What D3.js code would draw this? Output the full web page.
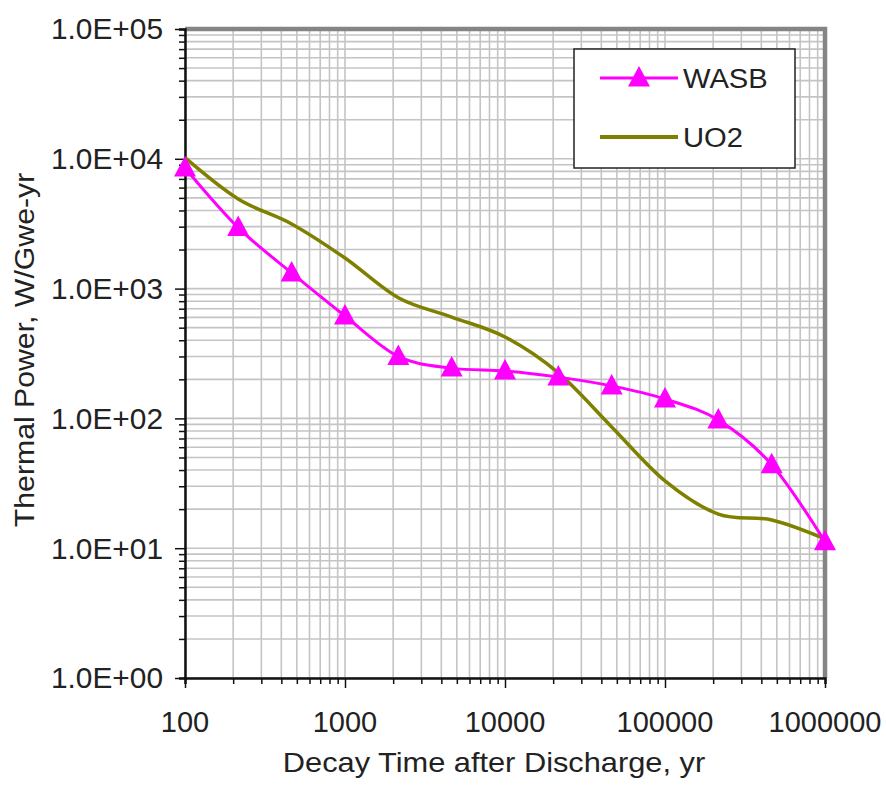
<!DOCTYPE html>
<html>
<head>
<meta charset="utf-8">
<script src="https://cdn.jsdelivr.net/npm/d3@7"></script>
<style>
  body { margin: 0; background: #fff; }
  text { font-family: "Liberation Sans", Arial, sans-serif; fill: #222; }
</style>
</head>
<body>
<div id="main"></div>
<script>
// decay heat
var times = [100, 215, 464, 1000, 2154, 4642, 10000, 21544, 46416, 100000, 215443, 464159, 1000000];
var wasb = [8500, 2950, 1320, 615, 300, 244, 232, 208, 178, 141, 97, 44, 11.2];
var uo2 = [10200, 4900, 3150, 1720, 850, 604, 424, 224, 86, 33, 18.3, 16.5, 11.8];
var xTicks = [100, 1000, 10000, 100000, 1000000];
var yTicks = [1, 10, 100, 1000, 10000, 100000];
var seriesNames = ["WASB", "UO2"];

var margin = {top: 29, right: 61, bottom: 111, left: 185};
var W = 886, H = 789;
var width = W - margin.left - margin.right;
var height = H - margin.top - margin.bottom;

var svg = d3.select("#main").append("svg")
  .attr("width", W).attr("height", H);

var x = d3.scaleLog().domain([100, 1000000]).range([0, width]);
var y = d3.scaleLog().domain([1, 100000]).range([height, 0]);

var g = svg.append("g").attr("transform", "translate(" + margin.left + "," + margin.top + ")");

// minor + major positions for grid
function logSteps(lo, hi) {
  var out = [];
  for (var p = lo; p < hi; p *= 10)
    for (var k = 1; k < 10; k++) out.push(p * k);
  out.push(hi);
  return out;
}
var xAll = logSteps(100, 1000000);
var yAll = logSteps(1, 100000);

//grid
g.append("g").attr("stroke", "#c4c4c4").attr("stroke-width", 1.6)
  .selectAll("line.v").data(xAll).join("line")
    .attr("x1", d => x(d)).attr("x2", d => x(d))
    .attr("y1", 0).attr("y2", height);
g.append("g").attr("stroke", "#c4c4c4").attr("stroke-width", 1.6)
  .selectAll("line.h").data(yAll).join("line")
    .attr("y1", d => y(d)).attr("y2", d => y(d))
    .attr("x1", 0).attr("x2", width);

// gray frame on top and right
g.append("path")
  .attr("d", "M0,0H" + width + "V" + height)
  .attr("fill", "none").attr("stroke", "#858585").attr("stroke-width", 4.5);

// axes
var xAxis = g.append("g").attr("transform", "translate(0," + height + ")")
  .call(d3.axisBottom(x).tickValues(xAll).tickSize(6).tickFormat(""));
xAxis.selectAll(".tick line").attr("y2", d => xTicks.indexOf(d) >= 0 ? 10 : 6);
var yAxis = g.append("g")
  .call(d3.axisLeft(y).tickValues(yAll).tickSize(6).tickFormat(""));
yAxis.selectAll(".tick line").attr("x2", d => yTicks.indexOf(d) >= 0 ? -10 : -6);
[xAxis, yAxis].forEach(a => {
  a.select(".domain").attr("stroke", "#111").attr("stroke-width", 2.5);
  a.selectAll(".tick line").attr("stroke", "#111").attr("stroke-width", 1.5);
});

g.append("g").selectAll("text").data(xTicks).join("text")
  .attr("x", d => x(d)).attr("y", height + 54)
  .attr("text-anchor", "middle").attr("font-size", 29)
  .text(d => d);
g.append("g").selectAll("text").data(yTicks).join("text")
  .attr("x", -22).attr("y", d => y(d)).attr("dy", "0.36em")
  .attr("text-anchor", "end").attr("font-size", 29)
  .attr("transform", "translate(-22,0) scale(1.03,1) translate(22,0)")
  .text(d => "1.0E+" + String(Math.round(Math.log10(d))).padStart(2, "0"));

// titles
svg.append("text")
  .attr("x", 494).attr("y", 772).attr("text-anchor", "middle").attr("font-size", 27)
  .attr("transform", "translate(494,0) scale(1.14,1) translate(-494,0)")
  .text("Decay Time after Discharge, yr");
svg.append("text")
  .attr("transform", "translate(34,350) rotate(-90) scale(1.12,1)")
  .attr("text-anchor", "middle").attr("font-size", 27)
  .text("Thermal Power, W/Gwe-yr");

// lines
var line = d3.line().curve(d3.curveCatmullRom.alpha(0))
  .x(d => x(d[0])).y(d => y(d[1]));

g.append("path").datum(d3.zip(times, uo2))
  .attr("d", line).attr("fill", "none").attr("stroke", "#808000").attr("stroke-width", 3.5);
g.append("path").datum(d3.zip(times, wasb))
  .attr("d", line).attr("fill", "none").attr("stroke", "#ff00ff").attr("stroke-width", 3);

// Excel style triangle, a bit taller than equilateral
var tri = "M0,-12L11,8.5L-11,8.5Z";
g.append("g").selectAll("path").data(d3.zip(times, wasb)).join("path")
  .attr("d", tri)
  .attr("transform", d => "translate(" + x(d[0]) + "," + y(d[1]) + ")")
  .attr("fill", "#ff00ff");

// legend
var lg = svg.append("g").attr("transform", "translate(574,49)");
lg.append("rect").attr("width", 221).attr("height", 119)
  .attr("fill", "#fff").attr("stroke", "#222").attr("stroke-width", 1.5);
var items = [{name: seriesNames[0], color: "#ff00ff", w: 3, marker: true, y: 29},
             {name: seriesNames[1], color: "#808000", w: 4, marker: false, y: 88}];
items.forEach(it => {
  lg.append("line").attr("x1", 26).attr("x2", 104).attr("y1", it.y).attr("y2", it.y)
    .attr("stroke", it.color).attr("stroke-width", it.w);
  if (it.marker)
    lg.append("path").attr("d", tri).attr("transform", "translate(65," + it.y + ")").attr("fill", it.color);
  lg.append("text").attr("x", 109).attr("y", it.y).attr("dy", "0.36em")
    .attr("font-size", 27)
    .attr("transform", "translate(109,0) scale(1.08,1) translate(-109,0)")
    .text(it.name);
});
</script>
</body>
</html>
